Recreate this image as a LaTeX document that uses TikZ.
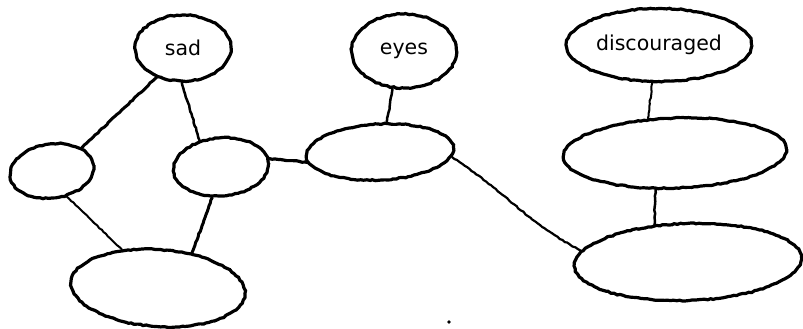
\documentclass[tikz,border=0pt]{standalone}
\usepackage{fontspec}
\setmainfont{DejaVu Sans}
\usetikzlibrary{shapes.geometric,decorations.pathmorphing}
\pgfmathsetseed{7}
\tikzset{
  bubble/.style={draw, ellipse, inner sep=0pt, line width=3.2pt,
    decorate, decoration={random steps, segment length=3pt, amplitude=0.6pt},
    font=\fontsize{20.5}{22}\selectfont},
  link/.style={line width=2.5pt, line cap=round,
    decorate, decoration={random steps, segment length=3pt, amplitude=0.5pt}},
  thinlink/.style={link, line width=2pt}
}
\begin{document}
\begin{tikzpicture}[x=1pt, y=-1pt]
\useasboundingbox (0,0) rectangle (803,329);

% upper row of concepts
\node[bubble, minimum width=96pt, minimum height=66pt] (sad) at (183,48) {sad};
\node[bubble, minimum width=105pt, minimum height=74pt] (eyes) at (404,51) {eyes};
\node[bubble, minimum width=185pt, minimum height=73pt] (disc) at (659,45) {discouraged};

% middle row
\node[bubble, minimum width=84pt, minimum height=54pt, rotate=8] (left) at (52,171) {};
\node[bubble, minimum width=95pt, minimum height=58pt, rotate=5] (centre) at (221,167) {};
\node[bubble, minimum width=147pt, minimum height=56pt, rotate=3] (mid) at (380,152) {};
\node[bubble, minimum width=223pt, minimum height=70pt, rotate=2] (rmid) at (675,153) {};

% lower row
\node[bubble, minimum width=174pt, minimum height=77pt, rotate=-4] (low) at (158,288) {};
\node[bubble, minimum width=227pt, minimum height=77pt, rotate=2] (rlow) at (688,262) {};

% connectors
\draw[link, line width=3pt] (sad.228) -- (left.30);
\draw[link] (sad.268) -- (centre.124);
\draw[thinlink] (left.292) -- (low.137);
\draw[link, line width=3pt] (centre.249) -- (low.50);
\draw[link, line width=3.2pt] (centre.5) -- (mid.185);
\draw[link] (eyes.253) -- (mid.74);
\draw[thinlink] (disc.260) -- (rmid.126);
\draw[link] (rmid.240) -- (rlow.130);
\draw[link, line width=2.2pt] (mid.353) to[out=-33, in=152] (rlow.172);

% stray speck
\node[circle, fill, inner sep=1.3pt] (speck) at (449,322) {};
\end{tikzpicture}
\end{document}
